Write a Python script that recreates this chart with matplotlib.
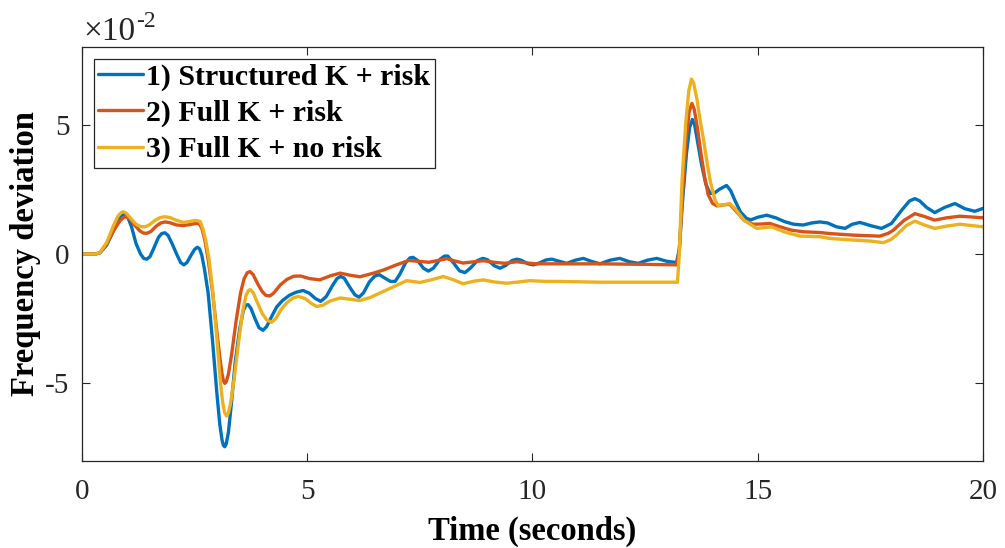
import matplotlib
matplotlib.use("Agg")
import matplotlib.pyplot as plt
import numpy as np
from matplotlib.ticker import FuncFormatter

plt.rcParams["font.family"] = ["Liberation Serif", "DejaVu Serif"]
plt.rcParams["axes.unicode_minus"] = False

# values, y in units of 1e-2
t_struct = [0, 0.3, 0.4, 0.55, 0.7, 0.82, 0.89, 0.95, 1.01, 1.1, 1.2, 1.3, 1.37, 1.44,
            1.51, 1.6, 1.7, 1.77, 1.84, 1.91, 2.0, 2.1, 2.19, 2.26, 2.33, 2.42, 2.5,
            2.56, 2.61, 2.66, 2.72, 2.8, 2.9, 3.0, 3.06, 3.11, 3.14, 3.17, 3.2, 3.25,
            3.31, 3.4, 3.5, 3.58, 3.64, 3.69, 3.75, 3.84, 3.93, 4.02, 4.1, 4.2, 4.32,
            4.45, 4.6, 4.75, 4.91, 5.05, 5.18, 5.3, 5.42, 5.55, 5.66, 5.74, 5.82, 5.95,
            6.06, 6.15, 6.25, 6.38, 6.5, 6.6, 6.72, 6.85, 6.95, 7.05, 7.18, 7.28, 7.35,
            7.45, 7.58, 7.69, 7.8, 7.95, 8.05, 8.12, 8.25, 8.38, 8.5, 8.62, 8.78, 8.9,
            9.0, 9.15, 9.28, 9.4, 9.55, 9.65, 9.75, 9.9, 10.02, 10.15, 10.3, 10.43,
            10.55, 10.76, 10.95, 11.13, 11.3, 11.5, 11.72, 11.94, 12.15, 12.35, 12.55,
            12.76, 12.98, 13.2, 13.26, 13.33, 13.42, 13.49, 13.55, 13.6, 13.67, 13.75,
            13.85, 13.94, 14.02, 14.15, 14.31, 14.4, 14.5, 14.62, 14.75, 14.85, 15.0,
            15.2, 15.4, 15.6, 15.8, 16.01, 16.2, 16.38, 16.55, 16.75, 16.94, 17.1,
            17.27, 17.5, 17.75, 17.97, 18.2, 18.37, 18.49, 18.6, 18.75, 18.93, 19.15,
            19.38, 19.6, 19.82, 20.0]
y_struct = [0, 0, 0.05, 0.35, 0.9, 1.35, 1.5, 1.54, 1.45, 1.05, 0.4, 0.0, -0.17, -0.2,
            -0.1, 0.25, 0.65, 0.79, 0.82, 0.72, 0.4, 0.0, -0.33, -0.42, -0.33, -0.05,
            0.18, 0.26, 0.2, -0.05, -0.6, -1.5, -3.4, -5.5, -6.6, -7.2, -7.4, -7.45,
            -7.35, -6.9, -5.9, -4.2, -2.9, -2.2, -1.97, -1.96, -2.1, -2.5, -2.85, -2.95,
            -2.8, -2.45, -2.05, -1.8, -1.6, -1.48, -1.41, -1.52, -1.72, -1.83, -1.65,
            -1.25, -0.95, -0.87, -0.93, -1.3, -1.58, -1.67, -1.5, -1.08, -0.85, -0.8,
            -0.93, -1.06, -1.06, -0.8, -0.35, -0.15, -0.13, -0.25, -0.55, -0.66, -0.55,
            -0.2, -0.08, -0.08, -0.35, -0.65, -0.72, -0.55, -0.25, -0.17, -0.22, -0.45,
            -0.55, -0.45, -0.25, -0.2, -0.24, -0.38, -0.42, -0.35, -0.23, -0.2, -0.26,
            -0.36, -0.24, -0.17, -0.28, -0.38, -0.24, -0.17, -0.3, -0.36, -0.24, -0.17,
            -0.28, -0.33, 0.2, 2.0, 3.9, 4.9, 5.2, 5.0, 4.3, 3.5, 2.7, 2.35, 2.33, 2.5,
            2.65, 2.45, 2.05, 1.62, 1.38, 1.32, 1.42, 1.5, 1.4, 1.25, 1.15, 1.12, 1.2,
            1.24, 1.2, 1.05, 0.99, 1.15, 1.22, 1.1, 0.99, 1.18, 1.7, 2.05, 2.14, 2.05,
            1.8, 1.6, 1.8, 1.95, 1.75, 1.65, 1.76]

t_full = [0, 0.3, 0.4, 0.55, 0.7, 0.85, 0.93, 0.99, 1.06, 1.15, 1.28, 1.36, 1.44, 1.53,
          1.65, 1.75, 1.84, 1.95, 2.1, 2.25, 2.4, 2.52, 2.6, 2.66, 2.73, 2.8, 2.9, 3.0,
          3.06, 3.11, 3.14, 3.17, 3.2, 3.25, 3.32, 3.42, 3.52, 3.6, 3.67, 3.73, 3.8,
          3.9, 4.0, 4.08, 4.17, 4.25, 4.4, 4.55, 4.7, 4.85, 5.05, 5.28, 5.5, 5.73,
          5.95, 6.17, 6.45, 6.69, 6.98, 7.25, 7.45, 7.7, 7.9, 8.1, 8.3, 8.46, 8.7,
          8.91, 9.15, 9.39, 9.65, 9.9, 10.09, 10.6, 11.5, 12.5, 13.2, 13.26, 13.33,
          13.41, 13.48, 13.54, 13.59, 13.66, 13.74, 13.82, 13.9, 14.0, 14.1, 14.25,
          14.38, 14.5, 14.7, 14.9, 15.1, 15.27, 15.5, 15.75, 16.01, 16.38, 16.6, 17.12,
          17.71, 17.9, 18.01, 18.25, 18.49, 18.7, 18.93, 19.2, 19.49, 20.0]
y_full = [0, 0, 0.05, 0.4, 0.9, 1.3, 1.42, 1.44, 1.36, 1.15, 0.9, 0.81, 0.8, 0.87, 1.08,
          1.2, 1.24, 1.21, 1.12, 1.1, 1.14, 1.18, 1.17, 1.0, 0.5, -0.2, -1.5, -3.1,
          -4.0, -4.65, -4.9, -5.0, -4.95, -4.65, -3.9, -2.6, -1.5, -0.95, -0.72, -0.68,
          -0.8, -1.15, -1.45, -1.6, -1.62, -1.52, -1.2, -0.98, -0.86, -0.85, -0.95,
          -1.0, -0.85, -0.74, -0.82, -0.88, -0.75, -0.62, -0.42, -0.25, -0.28, -0.32,
          -0.25, -0.18, -0.28, -0.35, -0.3, -0.26, -0.32, -0.36, -0.3, -0.35, -0.38,
          -0.38, -0.38, -0.4, -0.42, 0.1, 2.3, 4.4, 5.5, 5.82, 5.6, 4.9, 3.9, 3.0, 2.3,
          1.95, 1.86, 1.9, 1.92, 1.7, 1.3, 1.15, 1.16, 1.18, 1.05, 0.92, 0.86, 0.83,
          0.79, 0.73, 0.69, 0.8, 0.92, 1.3, 1.56, 1.45, 1.31, 1.4, 1.46, 1.4]

t_norisk = [0, 0.3, 0.4, 0.55, 0.7, 0.8, 0.87, 0.92, 0.98, 1.08, 1.2, 1.3, 1.4, 1.5,
            1.62, 1.74, 1.84, 1.95, 2.1, 2.25, 2.4, 2.52, 2.62, 2.68, 2.75, 2.82, 2.9,
            3.0, 3.07, 3.12, 3.16, 3.21, 3.25, 3.3, 3.38, 3.47, 3.56, 3.64, 3.7, 3.74,
            3.8, 3.9, 4.0, 4.1, 4.21, 4.3, 4.42, 4.55, 4.68, 4.8, 4.95, 5.1, 5.21, 5.35,
            5.5, 5.73, 5.95, 6.17, 6.4, 6.61, 6.9, 7.21, 7.5, 7.75, 8.02, 8.25, 8.46,
            8.7, 8.91, 9.15, 9.43, 9.7, 9.94, 10.3, 10.6, 11.5, 12.5, 13.22, 13.26,
            13.32, 13.4, 13.47, 13.53, 13.58, 13.65, 13.72, 13.8, 13.87, 13.95, 14.05,
            14.12, 14.25, 14.38, 14.5, 14.7, 14.98, 15.15, 15.31, 15.6, 15.94, 16.38,
            16.6, 17.12, 17.5, 17.79, 17.95, 18.08, 18.3, 18.49, 18.7, 18.93, 19.2,
            19.49, 20.0]
y_norisk = [0, 0, 0.06, 0.45, 1.1, 1.47, 1.6, 1.63, 1.58, 1.38, 1.15, 1.06, 1.05, 1.13,
            1.3, 1.41, 1.44, 1.41, 1.3, 1.22, 1.26, 1.3, 1.26, 1.0, 0.5, -0.2, -1.4,
            -3.4, -4.9, -5.7, -6.1, -6.26, -6.15, -5.75, -4.8, -3.5, -2.3, -1.6, -1.4,
            -1.38, -1.5, -1.9, -2.3, -2.55, -2.64, -2.5, -2.15, -1.88, -1.7, -1.64,
            -1.72, -1.92, -2.03, -1.98, -1.82, -1.7, -1.75, -1.8, -1.68, -1.51, -1.28,
            -1.03, -1.1, -1.0, -0.87, -1.0, -1.15, -1.05, -1.0, -1.08, -1.13, -1.08,
            -1.03, -1.06, -1.06, -1.09, -1.09, -1.09, 0.0, 2.8, 5.0, 6.3, 6.76, 6.6,
            6.0, 5.2, 4.4, 3.6, 2.8, 2.1, 1.88, 1.9, 1.95, 1.75, 1.3, 0.99, 1.02, 1.05,
            0.85, 0.69, 0.67, 0.6, 0.54, 0.5, 0.44, 0.55, 0.73, 1.1, 1.27, 1.12, 0.99,
            1.08, 1.15, 1.05]

labels = ["1) Structured K + risk", "2) Full K + risk", "3) Full K + no risk"]
colors = ["#0072BD", "#D95319", "#EDB120"]
series = [(t_struct, y_struct), (t_full, y_full), (t_norisk, y_norisk)]
xticks = [0, 5, 10, 15, 20]
yticks = [-0.05, 0, 0.05]

fig = plt.figure(figsize=(10.05, 5.48), dpi=100)
ax = fig.add_axes([0.0816, 0.1588, 0.8964, 0.7554])

for (t, y), lab, col in zip(series, labels, colors):
    ax.plot(t, np.array(y) * 1e-2, color=col, lw=2.4, label=lab,
            solid_joinstyle="round", solid_capstyle="round")

ax.set_xlim(0, 20)
ax.set_ylim(-0.08, 0.08)
ax.set_xticks(xticks)
ax.set_yticks(yticks)
ax.yaxis.set_major_formatter(FuncFormatter(lambda v, p: f"{round(v * 100):d}"))

# MATLAB-style exponent above the y axis
mult = ax.text(0.002, 1.0, "\u00d710", transform=ax.transAxes, fontsize=24,
               color="#262626", ha="left", va="bottom")
ax.annotate("-2", xy=(1.0, 0.5), xycoords=mult, fontsize=17, color="#262626",
            ha="left", va="bottom")

ax.tick_params(direction="in", length=6, width=0.8, colors="#262626",
               top=True, right=True, labelsize=21)
ax.tick_params(axis="x", pad=13)
ax.tick_params(axis="y", pad=9)
for s in ax.spines.values():
    s.set_color("#262626")
    s.set_linewidth(0.9)

ax.set_xlabel("Time (seconds)", fontsize=23.5, fontweight="bold", labelpad=8)
ax.set_ylabel("Frequency deviation", fontsize=23.5, fontweight="bold", labelpad=3)

leg = ax.legend(loc="upper left", handlelength=1.5, handletextpad=0.1,
                labelspacing=0.3, borderpad=0.15, borderaxespad=0.4,
                fancybox=False, framealpha=1, prop={"weight": "bold", "size": 21.5})
leg.get_frame().set_edgecolor("#262626")
leg.get_frame().set_linewidth(0.9)

fig.savefig("out.png", dpi=100)
